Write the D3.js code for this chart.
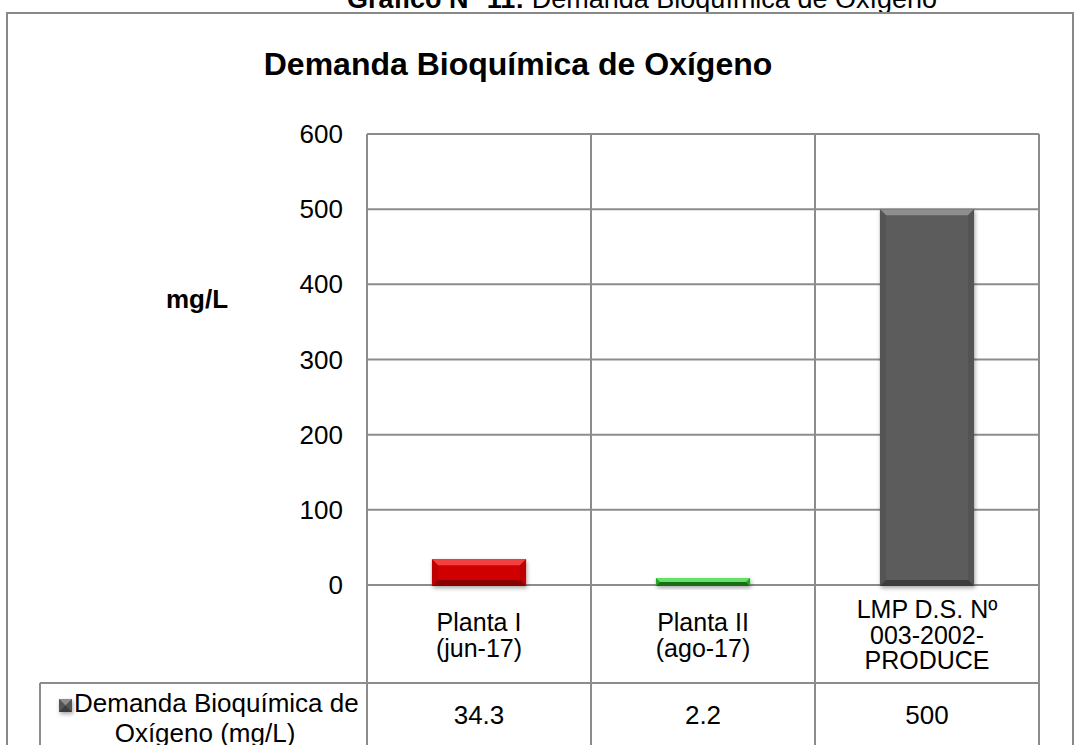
<!DOCTYPE html>
<html>
<head>
<meta charset="utf-8">
<script src="https://cdn.jsdelivr.net/npm/d3@7"></script>
<style>
  body { margin: 0; background: #fff; }
  svg { display: block; font-family: Arial, "Liberation Sans", sans-serif; }
</style>
</head>
<body>
<div id="chart"></div>
<script>
// chart data
const categories = ['Planta I (jun-17)', 'Planta II (ago-17)', 'LMP D.S. Nº 003-2002-PRODUCE'];
const categoryLines = [['Planta I', '(jun-17)'], ['Planta II', '(ago-17)'], ['LMP D.S. Nº', '003-2002-', 'PRODUCE']];
const values = [34.3, 2.2, 500];
const valueLabels = ['34.3', '2.2', '500'];
const yTicks = [0, 100, 200, 300, 400, 500, 600];
const seriesName = ['Demanda Bioquímica de', 'Oxígeno (mg/L)'];
const barColors = [
  {face: '#d10000', top: '#f24040', side: '#bd0000', bottom: '#8a0000'},
  {face: '#36c036', top: '#66e066', side: '#2aa52a', bottom: '#176e17'},
  {face: '#5c5c5c', top: '#8e8e8e', side: '#545454', bottom: '#3c3c3c'}
];

const W = 1078, H = 745;
const plot = {left: 367, right: 1039, top: 134, bottom: 585};
const tableLine = 683;
const gridColor = '#8c8c8c';

const svg = d3.select('#chart').append('svg')
  .attr('width', W)
  .attr('height', H);

const defs = svg.append('defs');
defs.append('filter')
  .attr('id', 'shadow')
  .attr('x', '-20%').attr('y', '-20%').attr('width', '140%').attr('height', '160%')
  .append('feDropShadow')
  .attr('dx', 1).attr('dy', 2).attr('stdDeviation', 2)
  .attr('flood-color', '#000').attr('flood-opacity', 0.35);

// page caption (cut at the top of the picture)
const caption = svg.append('text')
  .attr('x', 937)
  .attr('y', 8)
  .attr('text-anchor', 'end')
  .attr('font-size', 27)
  .attr('fill', '#000');
caption.append('tspan').attr('font-weight', 'bold').text('Gráfico N° 11: ');
caption.append('tspan').text('Demanda Bioquímica de Oxígeno');

// chart border
svg.append('rect')
  .attr('x', 7).attr('y', 13)
  .attr('width', 1066).attr('height', 760)
  .attr('fill', 'none')
  .attr('stroke', '#898989')
  .attr('stroke-width', 2);

svg.append('text')
  .attr('x', 518)
  .attr('y', 75)
  .attr('text-anchor', 'middle')
  .attr('font-size', 32)
  .attr('font-weight', 'bold')
  .text('Demanda Bioquímica de Oxígeno');

const x = d3.scaleBand()
  .domain(categories)
  .range([plot.left, plot.right])
  .paddingInner(0)
  .paddingOuter(0);

const y = d3.scaleLinear()
  .domain([0, 600])
  .range([plot.bottom, plot.top]);

// horizontal gridlines
svg.append('g')
  .selectAll('line')
  .data(yTicks)
  .enter().append('line')
  .attr('x1', plot.left)
  .attr('x2', plot.right)
  .attr('y1', d => y(d))
  .attr('y2', d => y(d))
  .attr('stroke', gridColor)
  .attr('stroke-width', 2);

// vertical lines (plot + data table columns)
const colEdges = categories.map(c => x(c)).concat([plot.right]);
svg.append('g')
  .selectAll('line')
  .data(colEdges)
  .enter().append('line')
  .attr('x1', d => d)
  .attr('x2', d => d)
  .attr('y1', plot.top)
  .attr('y2', H)
  .attr('stroke', gridColor)
  .attr('stroke-width', 2);

// table row separator and legend cell edge
svg.append('line')
  .attr('x1', 40).attr('x2', plot.right)
  .attr('y1', tableLine).attr('y2', tableLine)
  .attr('stroke', gridColor).attr('stroke-width', 2);
svg.append('line')
  .attr('x1', 40).attr('x2', 40)
  .attr('y1', tableLine).attr('y2', H)
  .attr('stroke', gridColor).attr('stroke-width', 2);

// y tick labels
svg.append('g')
  .selectAll('text')
  .data(yTicks)
  .enter().append('text')
  .attr('x', 343)
  .attr('y', d => y(d))
  .attr('dy', '0.35em')
  .attr('text-anchor', 'end')
  .attr('font-size', 26)
  .text(d => d);

svg.append('text')
  .attr('x', 197)
  .attr('y', 299)
  .attr('dy', '0.35em')
  .attr('text-anchor', 'middle')
  .attr('font-size', 26)
  .attr('font-weight', 'bold')
  .text('mg/L');

// bevelled bars
function bevelBar(g, bx, by, bw, bh, c) {
  const d = Math.min(6, bh / 2, bw / 2);
  g.append('rect')
    .attr('x', bx).attr('y', by)
    .attr('width', bw).attr('height', bh)
    .attr('fill', c.face)
    .attr('filter', 'url(#shadow)');
  const pts = [
    [[bx, by], [bx + bw, by], [bx + bw - d, by + d], [bx + d, by + d], c.top],
    [[bx, by], [bx + d, by + d], [bx + d, by + bh - d], [bx, by + bh], c.side],
    [[bx + bw, by], [bx + bw - d, by + d], [bx + bw - d, by + bh - d], [bx + bw, by + bh], c.side],
    [[bx, by + bh], [bx + d, by + bh - d], [bx + bw - d, by + bh - d], [bx + bw, by + bh], c.bottom]
  ];
  pts.forEach(p => {
    g.append('polygon')
      .attr('points', p.slice(0, 4).map(q => q.join(',')).join(' '))
      .attr('fill', p[4]);
  });
}

const barW = x.bandwidth() * 0.42;
const bars = svg.append('g');
values.forEach((v, i) => {
  const cx = x(categories[i]) + x.bandwidth() / 2;
  const top = Math.min(y(v), y(0) - 7);
  const bottom = y(0) + 1;
  bevelBar(bars.append('g'), cx - barW / 2, top, barW, bottom - top, barColors[i]);
});

// data table: category labels
const lineH = 25.5;
const catRowMid = (plot.bottom + tableLine) / 2 + 1;
categoryLines.forEach((lines, i) => {
  const cx = x(categories[i]) + x.bandwidth() / 2;
  const t = svg.append('text')
    .attr('text-anchor', 'middle')
    .attr('font-size', 25);
  lines.forEach((ln, j) => {
    t.append('tspan')
      .attr('x', cx)
      .attr('y', catRowMid + (j - (lines.length - 1) / 2) * lineH)
      .attr('dy', '0.35em')
      .text(ln);
  });
});

// data table: values
svg.append('g')
  .selectAll('text')
  .data(valueLabels)
  .enter().append('text')
  .attr('x', (d, i) => x(categories[i]) + x.bandwidth() / 2)
  .attr('y', 715)
  .attr('dy', '0.35em')
  .attr('text-anchor', 'middle')
  .attr('font-size', 26)
  .text(d => d);

// legend key + series name
bevelBar(svg.append('g'), 59, 699, 13, 13, barColors[2]);
svg.append('text')
  .attr('x', 74)
  .attr('y', 712)
  .attr('font-size', 26)
  .text(seriesName[0]);
svg.append('text')
  .attr('x', 205)
  .attr('y', 742)
  .attr('text-anchor', 'middle')
  .attr('font-size', 26)
  .text(seriesName[1]);
</script>
</body>
</html>
